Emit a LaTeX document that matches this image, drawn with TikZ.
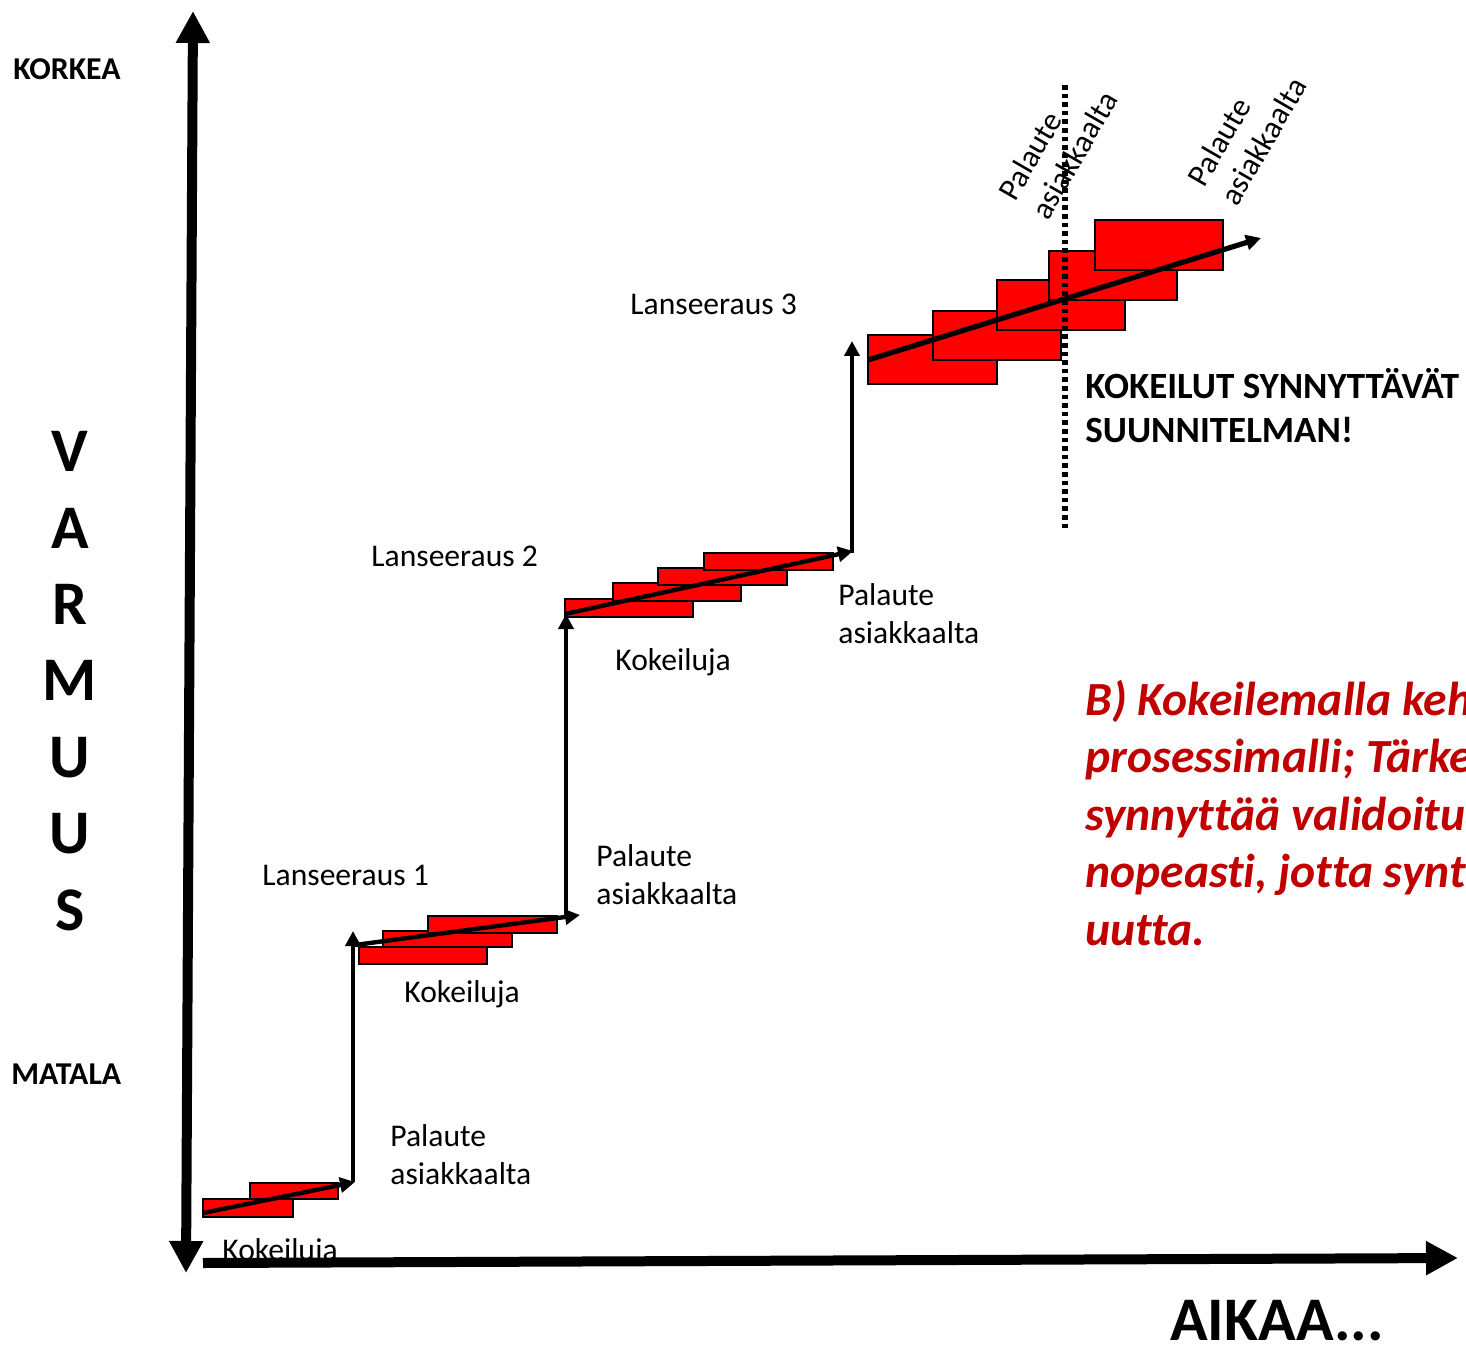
\documentclass[tikz,border=0pt]{standalone}
\usepackage{fontspec}
\setmainfont{Carlito}[Ligatures={NoCommon}]
\usetikzlibrary{arrows.meta}
\definecolor{darkred}{RGB}{192,0,0}
\tikzset{axtip/.tip={Triangle[length=16pt,width=16pt]}}
\begin{document}
\begin{tikzpicture}[x=0.5pt,y=-0.5pt,
  lbl/.style={font=\fontsize{15.8}{19}\selectfont, inner sep=0pt, anchor=base west},
  rlbl/.style={lbl, rotate=60},
  side/.style={font=\bfseries\fontsize{15.9}{19}\selectfont, inner sep=0pt, anchor=base west},
  bigletter/.style={font=\bfseries\fontsize{31}{36}\selectfont, inner sep=0pt, anchor=base},
  note/.style={font=\bfseries\fontsize{18.5}{22}\selectfont, inner sep=0pt, anchor=base west},
  rednote/.style={font=\bfseries\itshape\fontsize{23.8}{28}\selectfont, text=darkred, inner sep=0pt, anchor=base west},
  block/.style={fill=red, draw=black, line width=0.75pt},
  stepline/.style={line width=2.2pt, -{Triangle[length=7.5pt,width=7.5pt]}},
  axisline/.style={line width=5pt},
  dotline/.style={line width=2.6pt, dash pattern=on 2.3pt off 2pt}
]
\useasboundingbox (0,0) rectangle (1466,1347);
\clip (0,0) rectangle (1466,1347);

% side labels
\node[side] (korkea) at (13,80) {KORKEA};
\node[side] (matala) at (11,1084) {MATALA};
\node[bigletter] (v1) at (70,472) {V};
\node[bigletter] (v2) at (70,548) {A};
\node[bigletter] (v3) at (70,624) {R};
\node[bigletter] (v4) at (70,700) {M};
\node[bigletter] (v5) at (70,777) {U};
\node[bigletter] (v6) at (70,853) {U};
\node[bigletter] (v7) at (70,930) {S};
\node[font=\bfseries\fontsize{31}{36}\selectfont, inner sep=0pt, anchor=base west] (aikaa) at (1170,1340) {AIKAA...};

% step labels
\node[lbl] (k1) at (222,1260) {Kokeiluja};
\node[lbl] (p1a) at (390,1146) {Palaute};
\node[lbl] (p1b) at (390,1184) {asiakkaalta};
\node[lbl] (l1) at (262,885) {Lanseeraus 1};
\node[lbl] (k2) at (404,1002) {Kokeiluja};
\node[lbl] (p2a) at (596,866) {Palaute};
\node[lbl] (p2b) at (596,904) {asiakkaalta};
\node[lbl] (l2) at (371,567) {Lanseeraus 2};
\node[lbl] (k3) at (615,670) {Kokeiluja};
\node[lbl] (p3a) at (838,605) {Palaute};
\node[lbl] (p3b) at (838,643) {asiakkaalta};
\node[lbl] (l3) at (630,315) {Lanseeraus 3};
\node[rlbl] (p4a) at (1015,203) {Palaute};
\node[rlbl] (p4b) at (1048,222) {asiakkaalta};
\node[rlbl] (p5a) at (1204,189) {Palaute};
\node[rlbl] (p5b) at (1237,208) {asiakkaalta};

% notes
\node[note] (n1) at (1085,399) {KOKEILUT SYNNYTTÄVÄT};
\node[note] (n2) at (1085,443) {SUUNNITELMAN!};
\node[rednote] (r1) at (1085,715) {B) Kokeilemalla kehittämisen};
\node[rednote] (r2) at (1085,772.5) {prosessimalli; Tärkeintä on};
\node[rednote] (r3) at (1085,830) {synnyttää validoitua tietoa};
\node[rednote] (r4) at (1085,887.5) {nopeasti, jotta syntyy jotain};
\node[rednote] (r5) at (1085,945) {uutta.};

% blocks
\draw[block] (203,1199) rectangle (293,1217);
\draw[block] (250,1183) rectangle (338,1199);
\draw[block] (359,947) rectangle (487,964);
\draw[block] (383,931) rectangle (512,947);
\draw[block] (428,916) rectangle (557,933);
\draw[block] (565,599) rectangle (693,617);
\draw[block] (613,583) rectangle (741,601);
\draw[block] (658,568) rectangle (787,585);
\draw[block] (704,553) rectangle (833,570);
\draw[block] (868,335) rectangle (997,384);
\draw[block] (933,311) rectangle (1061,360);
\draw[block] (997,280) rectangle (1125,330);
\draw[block] (1049,251) rectangle (1177,300);
\draw[block] (1095,220) rectangle (1223,270);

% dotted line
\coordinate (dtop) at (1065,85);
\coordinate (dbot) at (1065,530);
\draw[dotline] (dtop) -- (dbot);

% step coordinates
\coordinate (a1) at (203,1213);
\coordinate (b1) at (355,1182);
\coordinate (c1) at (353,1182);
\coordinate (d1) at (353,931);
\coordinate (a2) at (355,945);
\coordinate (b2) at (580,915);
\coordinate (c2) at (566,916);
\coordinate (d2) at (566,614);
\coordinate (a3) at (565,614);
\coordinate (b3) at (853,551);
\coordinate (c3) at (852,553);
\coordinate (d3) at (852,341);
\coordinate (a4) at (868,360);
\coordinate (b4) at (1261,238);

\draw[stepline] (a1) -- (b1);
\draw[stepline] (c1) -- (d1);
\draw[stepline] (a2) -- (b2);
\draw[stepline] (c2) -- (d2);
\draw[stepline] (a3) -- (b3);
\draw[stepline] (c3) -- (d3);
\draw[stepline, line width=2.6pt] (a4) -- (b4);

% axes
\coordinate (ybot) at (186,1273);
\coordinate (ytop) at (193,11);
\coordinate (xl) at (203,1263);
\coordinate (xr) at (1458,1258);
\draw[axisline, axtip-axtip] (ybot) -- (ytop);
\draw[axisline, -axtip] (xl) -- (xr);
\end{tikzpicture}
\end{document}
